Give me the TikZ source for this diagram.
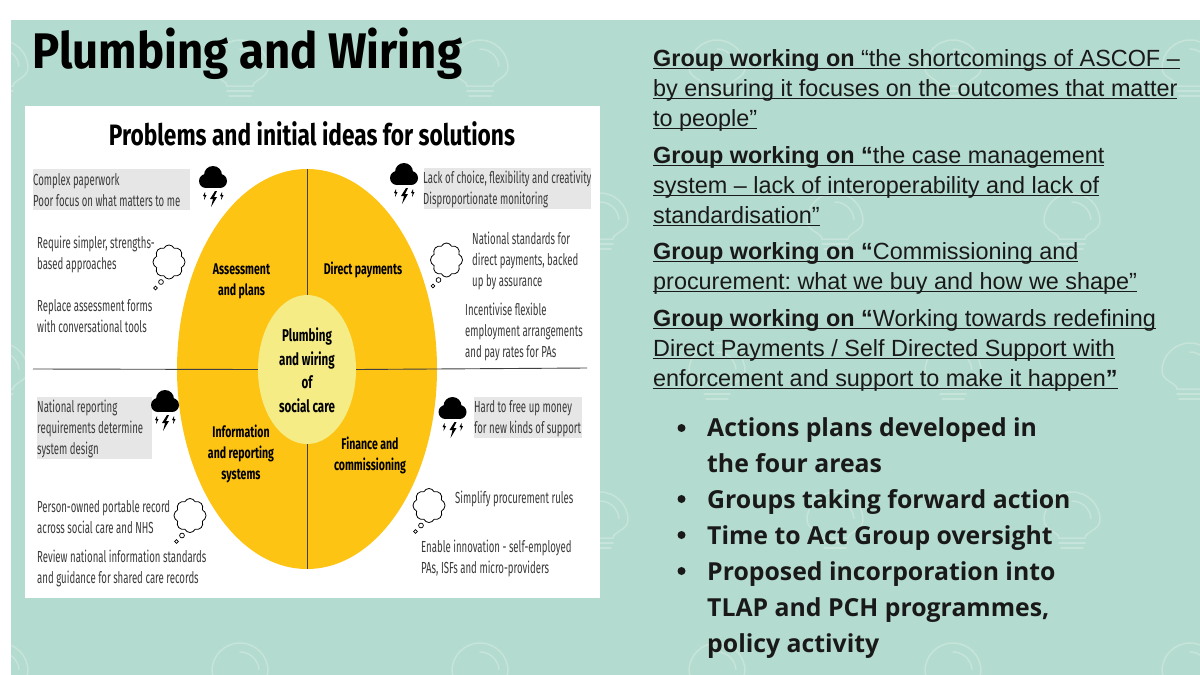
\documentclass[tikz,border=0pt]{standalone}
\usepackage{fontspec}
\usetikzlibrary{shapes.symbols,shapes.geometric}
\setmainfont{Liberation Sans}
\newfontfamily\titlefont[FakeStretch=0.91]{Fira Sans}
\newfontfamily\panelfont[FakeStretch=0.77]{Fira Sans}
\newfontfamily\ovalfont[FakeStretch=0.68]{Fira Sans}
\newfontfamily\notefont[FakeStretch=0.6]{Fira Sans}
\newfontfamily\bulletfont{Open Sans}
\definecolor{slidebg}{HTML}{B4DBCF}
\definecolor{bulbline}{HTML}{C6E4DA}
\definecolor{ovalgold}{HTML}{FDC414}
\definecolor{ovalpale}{HTML}{F5EC86}
\definecolor{notegrey}{HTML}{E6E6E6}
\definecolor{notetext}{HTML}{3A3A3A}
\newcommand{\bulb}[2]{%
  \draw[bulbline, line width=1.5pt] (#1-13,#2+46) .. controls (#1-13,#2+40) and (#1-28,#2+38) .. (#1-28,#2+28)
    arc[start angle=180, end angle=360, radius=28]
    .. controls (#1+28,#2+38) and (#1+13,#2+40) .. (#1+13,#2+46) -- cycle;
  \draw[bulbline, line width=1.5pt, line cap=round] (#1,#2+9) arc[start angle=270, end angle=355, radius=19];
  \draw[bulbline, line width=1.5pt, line cap=round] (#1-13,#2+51) -- (#1+13,#2+51);
  \draw[bulbline, line width=1.5pt, line cap=round] (#1-11,#2+56) -- (#1+11,#2+56);
}
\newcommand{\storm}[2]{%
  \fill[black] (#1-7,#2+15) circle[radius=7];
  \fill[black] (#1+7,#2+15) circle[radius=7];
  \fill[black] (#1,#2+9) circle[radius=9];
  \fill[black] (#1-7,#2+14) rectangle (#1+7,#2+22);
  \fill[black] (#1+2,#2+25) -- (#1-3,#2+33) -- (#1,#2+33) -- (#1-2,#2+41) -- (#1+4,#2+31) -- (#1+1,#2+31) -- (#1+4,#2+25) -- cycle;
  \fill[black] (#1-8,#2+26) -- (#1-10,#2+30) -- (#1-8.5,#2+30) -- (#1-9,#2+34) -- (#1-6.5,#2+29) -- (#1-8,#2+29) -- cycle;
  \fill[black] (#1+9,#2+26) -- (#1+7,#2+30) -- (#1+8.5,#2+30) -- (#1+8,#2+34) -- (#1+10.5,#2+29) -- (#1+9,#2+29) -- cycle;
}
\newcommand{\thought}[3]{%
  \node[idea] (#3) at (#1,#2) {};
  \draw[line width=0.7pt] (#1-8,#2+20) circle[radius=2.4] (#1-13.5,#2+26) circle[radius=1.8];
}
\newcommand{\uln}[1]{\setbox0=\hbox{#1}\rlap{\rule[-2.6pt]{\wd0}{0.7pt}}\box0}
\newcommand{\grp}{\textbf{Group working on }}
\tikzset{
  note/.style={anchor=west, align=left, text=notetext, inner sep=0pt,
    font=\notefont\fontsize{16}{21}\selectfont},
  oval/.style={anchor=center, align=center, text=black, inner sep=0pt,
    font=\ovalfont\bfseries\fontsize{15.5}{21}\selectfont},
  quote/.style={anchor=north west, align=left, inner sep=0pt, text=black!90,
    font=\fontsize{23.4}{30}\selectfont\frenchspacing},
  bullet/.style={anchor=north west, align=left, inner sep=0pt, text=black!90,
    font=\bulletfont\bfseries\fontsize{24.8}{36}\selectfont},
  idea/.style={cloud, cloud puffs=8, cloud puff arc=130, draw, line width=0.8pt,
    minimum width=32pt, minimum height=34pt, inner sep=0pt, aspect=1}
}
\begin{document}
\begin{tikzpicture}[x=1pt, y=-1pt]
\useasboundingbox (0,0) rectangle (1200,675);
\fill[white] (0,0) rectangle (1200,675);
\fill[slidebg] (11,20) rectangle (1200,675);

% Ampoules du fond
\begin{scope}
\clip (11,20) rectangle (1200,675);
\foreach \xa in {0,240,480,717,953,1190}{
  \foreach \ya in {40,343,643}{\bulb{\xa}{\ya}}
}
\foreach \xa in {600,835,1072}{
  \foreach \ya in {193,492}{\bulb{\xa}{\ya}}
}
\end{scope}

% Titre et panneau
\node[anchor=west, inner sep=0pt, font=\titlefont\bfseries\fontsize{50}{50}\selectfont] (title) at (32,54) {Plumbing and Wiring};
\fill[white] (25,106) rectangle (600,598);
\node[inner sep=0pt, font=\panelfont\bfseries\fontsize{29.5}{30}\selectfont] (paneltitle) at (312,134) {Problems and initial ideas for solutions};

% Notes grises
\fill[notegrey] (33,169) rectangle (190,210);
\fill[notegrey] (424,168) rectangle (590.5,209);
\fill[notegrey] (37,397) rectangle (152,459);
\fill[notegrey] (474,397) rectangle (582,438);

% Ovale
\node[ellipse, fill=ovalgold, minimum width=260pt, minimum height=400pt, inner sep=0pt] (outer) at (307,369) {};
\node[ellipse, fill=ovalpale, minimum width=98pt, minimum height=149pt, inner sep=0pt] (inner) at (307,369.5) {};
\coordinate (lineL) at (33,369);
\coordinate (lineR) at (587,368);
\draw[line width=0.9pt, black!75] (lineL) -- (inner.west);
\draw[line width=0.9pt, black!75] (inner.east) -- (lineR);
\draw[line width=0.9pt, black!75] (outer.north) -- (inner.north);
\draw[line width=0.9pt, black!75] (inner.south) -- (outer.south);

% Textes de l'ovale
\node[oval] (assess) at (241.5,281) {Assessment\\and plans};
\node[oval] (direct) at (363,270) {Direct payments};
\node[oval] (info) at (241,454) {Information\\and reporting\\systems};
\node[oval] (finance) at (370,455.5) {Finance and\\commissioning};
\node[oval, font=\ovalfont\bfseries\fontsize{17}{23.5}\selectfont] (centre) at (307,370) {Plumbing\\and wiring\\of\\social care};

% Notes
\node[note] (n1) at (33,190.5) {Complex paperwork\\Poor focus on what matters to me};
\node[note] (n2) at (423,189.5) {Lack of choice, flexibility and creativity\\Disproportionate monitoring};
\node[note] (n3) at (37,254.5) {Require simpler, strengths-\\based approaches};
\node[note] (n4) at (37,316.5) {Replace assessment forms\\with conversational tools};
\node[note] (n5) at (472,260.5) {National standards for\\direct payments, backed\\up by assurance};
\node[note] (n6) at (465,332) {Incentivise flexible\\employment arrangements\\and pay rates for PAs};
\node[note] (n7) at (37,429) {National reporting\\requirements determine\\system design};
\node[note] (n8) at (474,418.5) {Hard to free up money\\for new kinds of support};
\node[note] (n9) at (37,517.5) {Person-owned portable record\\across social care and NHS};
\node[note] (n10) at (37,568.5) {Review national information standards\\and guidance for shared care records};
\node[note] (n11) at (455,499) {Simplify procurement rules};
\node[note] (n12) at (421,558) {Enable innovation - self-employed\\PAs, ISFs and micro-providers};

% Icones
\storm{213}{166}
\storm{404}{163}
\storm{165}{390}
\storm{452.5}{397}
\thought{169}{262}{idea1}
\thought{446.5}{260}{idea2}
\thought{190}{515.5}{idea3}
\thought{429}{505.5}{idea4}

% Colonne de droite
\node[quote] (q1) at (653,49) {\uln{\grp “the shortcomings of ASCOF –}\\\uln{by ensuring it focuses on the outcomes that matter}\\\uln{to people”}};
\node[quote] (q2) at (653,146) {\uln{\grp\textbf{“}the case management}\\\uln{system – lack of interoperability and lack of}\\\uln{standardisation”}};
\node[quote] (q3) at (653,242) {\uln{\grp\textbf{“}Commissioning and}\\\uln{procurement: what we buy and how we shape”}};
\node[quote] (q4) at (653,309) {\uln{\grp\textbf{“}Working towards redefining}\\\uln{Direct Payments / Self Directed Support with}\\\uln{enforcement and support to make it happen\textbf{”}}};
\node[bullet] (b1) at (707,417) {Actions plans developed in\\the four areas};
\node[bullet] (b2) at (707,489) {Groups taking forward action};
\node[bullet] (b3) at (707,525) {Time to Act Group oversight};
\node[bullet] (b4) at (707,561) {Proposed incorporation into\\TLAP and PCH programmes,\\policy activity};
\foreach \ya in {428,499,535,571}{
  \fill[black!90] (681.5,\ya) circle[radius=4];
}
\end{tikzpicture}
\end{document}
